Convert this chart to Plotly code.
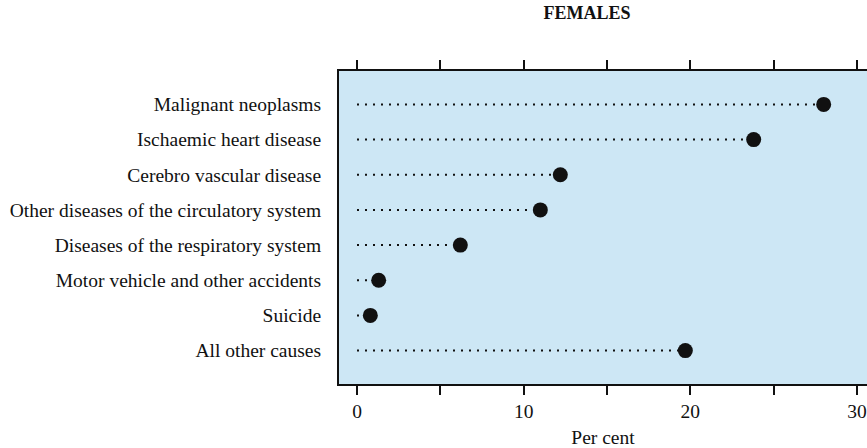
import plotly.graph_objects as go

causes = [
    "Malignant neoplasms",
    "Ischaemic heart disease",
    "Cerebro vascular disease",
    "Other diseases of the circulatory system",
    "Diseases of the respiratory system",
    "Motor vehicle and other accidents",
    "Suicide",
    "All other causes",
]
percent = [28.0, 23.8, 12.2, 11.0, 6.2, 1.3, 0.8, 19.7]
x_ticks = [0, 5, 10, 15, 20, 25, 30]
x_tick_labels = ["0", "", "10", "", "20", "", "30"]

fig = go.Figure()

for c, v in zip(causes, percent):
    fig.add_trace(go.Scatter(
        x=[0, v], y=[c, c], mode="lines",
        line=dict(color="#111", width=2, dash="2px,6px"),
        hoverinfo="skip", showlegend=False,
    ))

fig.add_trace(go.Scatter(
    x=percent, y=causes, mode="markers",
    marker=dict(color="#111", size=15),
    showlegend=False,
))

serif = "Liberation Serif, Times New Roman, serif"
W, H = 867, 448

fig.update_layout(
    width=W, height=H,
    margin=dict(l=339, r=0, t=71, b=64),
    paper_bgcolor="white",
    plot_bgcolor="#cde7f5",
    font=dict(family=serif, size=19.5, color="#111"),
    title=dict(text="<b>FEMALES</b>", x=587 / W, xanchor="center",
               y=1 - 13 / H, yanchor="middle",
               font=dict(family=serif, size=18, color="#111")),
    xaxis=dict(
        range=[-1.08, 30.6], tickvals=x_ticks, ticktext=x_tick_labels,
        ticks="outside", ticklen=9, tickwidth=1.5, tickcolor="#111",
        showgrid=False, zeroline=False,
        showline=True, linewidth=2, linecolor="#111", mirror="ticks",
        title=dict(text="Per cent", standoff=10, font=dict(size=19.5)),
        tickfont=dict(size=19.5),
    ),
    yaxis=dict(
        categoryorder="array", categoryarray=causes,
        range=[7.95, -0.95], autorange=False,
        showgrid=False, zeroline=False,
        showline=True, linewidth=2, linecolor="#111", mirror=False,
        ticks="", ticklabelstandoff=12,
        tickfont=dict(size=19.5),
    ),
)

fig.write_html(
    "out.html",
    config={"displayModeBar": False},
    post_script="document.body.style.margin='0';document.body.style.overflow='hidden';",
)
